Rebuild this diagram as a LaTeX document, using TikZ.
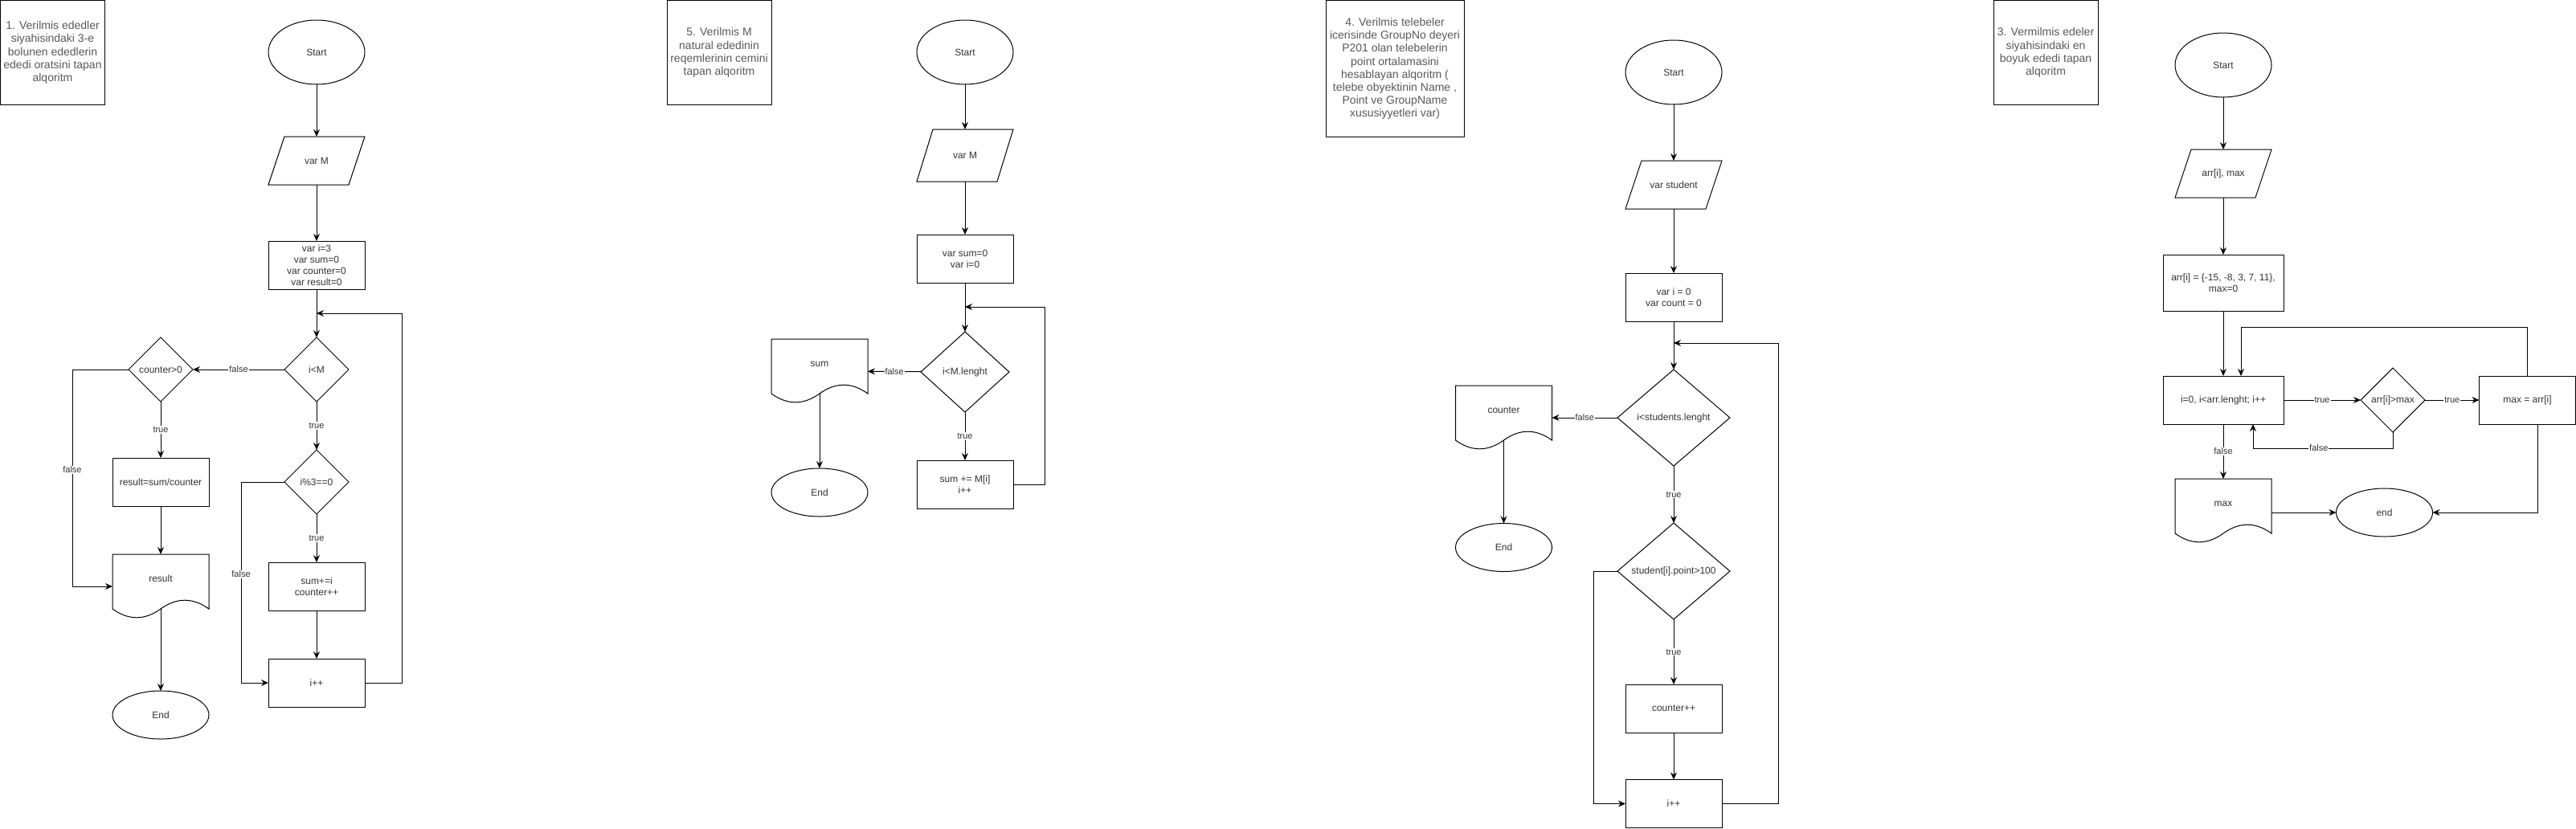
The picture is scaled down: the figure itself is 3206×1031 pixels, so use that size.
\documentclass[tikz,border=0pt]{standalone}
\usepackage{fontspec}
\setmainfont{Liberation Sans}
\usetikzlibrary{shapes.geometric,arrows.meta,calc}
\definecolor{titlegray}{HTML}{595959}
\definecolor{txtgray}{HTML}{333333}
\newcommand\fntBody{\fontsize{12}{14}\selectfont}
\newcommand\fntTitle{\fontsize{14}{16.2}\selectfont}
\newcommand\fntLbl{\fontsize{11}{13}\selectfont}
\tikzset{
  base/.style={line width=1pt, inner sep=0pt, outer sep=0pt, align=center, font=\fntBody, text=txtgray},
  term/.style={base, draw, ellipse, minimum width=120pt, minimum height=80pt},
  termS/.style={base, draw, ellipse, minimum width=120pt, minimum height=60pt},
  proc/.style={base, draw, rectangle, minimum width=120pt, minimum height=60pt},
  dec/.style={base, draw, diamond, minimum width=80pt, minimum height=80pt},
  io/.style={base, rectangle, minimum width=120pt, minimum height=60pt},
  docb/.style={base, rectangle, minimum width=120pt, minimum height=80pt},
  titlebox/.style={base, draw, rectangle, font=\fntTitle, text=titlegray},
  conn/.style={line width=1pt},
  arr/.style={conn, -{Stealth[length=9pt,width=8pt,inset=3pt]}},
  lbl/.style={fill=white, font=\fntLbl, text=txtgray, inner sep=1pt}
}
\newcommand\ioOutline[1]{\draw[conn] ($(#1.north west)+(20,0)$) -- (#1.north east) -- ($(#1.south east)+(-20,0)$) -- (#1.south west) -- cycle;}
\newcommand\docOutline[1]{\draw[conn, shift={(#1.north west)}] (0,0) -- (120,0) -- (120,68) .. controls (100,53.6) and (80,53.6) .. (60,68) .. controls (40,82.4) and (20,82.4) .. (0,68) -- cycle;}
\begin{document}
\begin{tikzpicture}[x=1pt,y=-1pt]
\fill[white] (0,0) rectangle (3206,1031);
\useasboundingbox (0,0) rectangle (3206,1031);

% ---------------- Diagram 1 ----------------
\node[titlebox, minimum width=130pt, minimum height=130pt] (t1) at (65.5,65.5) {1. Verilmis ededler\\siyahisindaki 3-e\\bolunen ededlerin\\ededi oratsini tapan\\alqoritm};
\node[term] (s1) at (394,65) {Start};
\node[io] (p1) at (394,200) {var M}; \ioOutline{p1}
\node[proc] (i1) at (394,330) {var i=3\\var sum=0\\var counter=0\\var result=0};
\node[dec] (c1) at (394,460) {i<M};
\node[dec] (k1) at (200,460) {counter>0};
\node[dec] (m1) at (394,600) {i\%3==0};
\node[proc] (a1) at (394,730) {sum+=i\\counter++};
\node[proc] (n1) at (394,850) {i++};
\node[proc] (r1) at (200,600) {result=sum/counter};
\node[docb] (d1) at (200,730) {\raisebox{6pt}[0pt][0pt]{result}}; \docOutline{d1}
\node[termS] (e1) at (200,890) {End};
\coordinate (j1) at (394,390);
\coordinate (d1b) at ($(d1.south)+(0,-12)$);

\draw[arr] (s1) -- (p1);
\draw[arr] (p1) -- (i1);
\draw[arr] (i1) -- (c1);
\draw[arr] (c1) -- node[lbl]{false} (k1);
\draw[arr] (c1) -- node[lbl]{true} (m1);
\draw[arr] (m1) -- node[lbl]{true} (a1);
\draw[arr] (a1) -- (n1);
\draw[arr] (m1.west) -- (300,600) -- node[lbl,pos=0.46]{false} (300,850) -- (n1.west);
\draw[arr] (n1.east) -- (500,850) -- (500,390) -- (j1);
\draw[arr] (k1) -- node[lbl]{true} (r1);
\draw[arr] (r1) -- (d1);
\draw[arr] (k1.west) -- (90,460) -- node[lbl,pos=0.463]{false} (90,730) -- (d1.west);
\draw[arr] (d1b) -- (e1);

% ---------------- Diagram 2 ----------------
\node[titlebox, minimum width=130pt, minimum height=130pt] (t2) at (895,65.5) {5. Verilmis M\\natural ededinin\\reqemlerinin cemini\\tapan alqoritm};
\node[term] (s2) at (1201,65) {Start};
\node[io, minimum height=65pt] (p2) at (1201,193.5) {var M}; \ioOutline{p2}
\node[proc] (i2) at (1201,322) {var sum=0\\var i=0};
\node[dec, minimum width=110pt, minimum height=100pt] (c2) at (1201,463) {i<M.lenght};
\node[docb] (d2) at (1020,462) {\raisebox{6pt}[0pt][0pt]{sum}}; \docOutline{d2}
\node[termS] (e2) at (1020,613) {End};
\node[proc] (a2) at (1201,603) {sum += M[i]\\i++};
\coordinate (j2) at (1201,382);
\coordinate (d2b) at ($(d2.south)+(0,-12)$);

\draw[arr] (s2) -- (p2);
\draw[arr] (p2) -- (i2);
\draw[arr] (i2) -- (c2);
\draw[arr] (c2) -- node[lbl]{false} (d2);
\draw[arr] (c2) -- node[lbl]{true} (a2);
\draw[arr] (a2.east) -- (1300,603) -- (1300,382) -- (j2);
\draw[arr] (d2b) -- (e2);

% ---------------- Diagram 3 ----------------
\node[titlebox, minimum width=172pt, minimum height=170pt] (t3) at (1736,85.5) {4. Verilmis telebeler\\icerisinde GroupNo deyeri\\P201 olan telebelerin\\point ortalamasini\\hesablayan alqoritm (\\telebe obyektinin Name ,\\Point ve GroupName\\xususiyyetleri var)};
\node[term] (s3) at (2083,90) {Start};
\node[io] (p3) at (2083,230) {var student}; \ioOutline{p3}
\node[proc] (i3) at (2083,370) {var i = 0\\var count = 0};
\node[dec, minimum width=140pt, minimum height=120pt] (c3) at (2083,520) {i<students.lenght};
\node[docb] (d3) at (1871.5,520) {\raisebox{6pt}[0pt][0pt]{counter}}; \docOutline{d3}
\node[termS] (e3) at (1871.5,681.5) {End};
\node[dec, minimum width=140pt, minimum height=120pt] (m3) at (2083,711) {student[i].point>100};
\node[proc] (a3) at (2083,882) {counter++};
\node[proc] (n3) at (2083,1000.5) {i++};
\coordinate (j3) at (2083,427);
\coordinate (d3b) at ($(d3.south)+(0,-12)$);

\draw[arr] (s3) -- (p3);
\draw[arr] (p3) -- (i3);
\draw[arr] (i3) -- (c3);
\draw[arr] (c3) -- node[lbl]{false} (d3);
\draw[arr] (c3) -- node[lbl]{true} (m3);
\draw[arr] (m3) -- node[lbl]{true} (a3);
\draw[arr] (a3) -- (n3);
\draw[arr] (m3.west) -- (1983,711) -- (1983,1000.5) -- (n3.west);
\draw[arr] (n3.east) -- (2213,1000.5) -- (2213,427) -- (j3);
\draw[arr] (d3b) -- (e3);

% ---------------- Diagram 4 ----------------
\node[titlebox, minimum width=130pt, minimum height=130pt] (t4) at (2546,65.5) {3. Vermilmis edeler\\siyahisindaki en\\boyuk ededi tapan\\alqoritm};
\node[term] (s4) at (2767,81) {Start};
\node[io] (p4) at (2767,216) {arr[i], max}; \ioOutline{p4}
\node[proc, minimum width=150pt, minimum height=70pt] (i4) at (2767,352) {arr[i] = \{-15, -8, 3, 7, 11\},\\max=0};
\node[proc, minimum width=150pt] (l4) at (2767,498) {i=0, i<arr.lenght; i++};
\node[dec] (g4) at (2978,498) {arr[i]>max};
\node[proc] (m4) at (3145.5,498) {max = arr[i]};
\node[docb] (d4) at (2767,636) {\raisebox{6pt}[0pt][0pt]{max}}; \docOutline{d4}
\node[termS] (e4) at (2967.5,638) {end};
\coordinate (l4f) at ($(l4.south)+(37,0)$);
\coordinate (l4t) at ($(l4.north)+(22,0)$);
\coordinate (m4b) at ($(m4.south)+(13,0)$);

\draw[arr] (s4) -- (p4);
\draw[arr] (p4) -- (i4);
\draw[arr] (i4) -- (l4);
\draw[arr] (l4) -- node[lbl]{true} (g4);
\draw[arr] (g4) -- node[lbl]{true} (m4);
\draw[arr] (g4.south) -- (2978,558) -- node[lbl,pos=0.53]{false} (2804,558) -- (l4f);
\draw[arr] (m4.north) -- (3145.5,407) -- (2789,407) -- (l4t);
\draw[arr] (l4) -- node[lbl]{false} (d4);
\draw[arr] (d4.east |- e4.west) -- (e4.west);
\draw[arr] (m4b) |- (e4.east);
\end{tikzpicture}
\end{document}
